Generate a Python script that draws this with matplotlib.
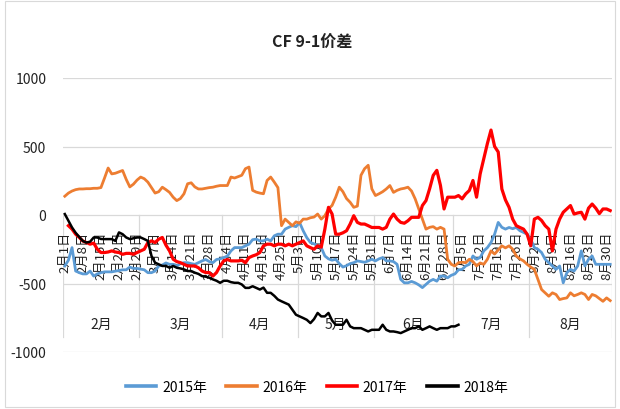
import numpy as np
import matplotlib
matplotlib.use("Agg")
import matplotlib.pyplot as plt
from matplotlib.lines import Line2D
from matplotlib.patches import Rectangle

plt.rcParams['font.family'] = ['Liberation Sans Narrow', 'Noto Sans CJK SC', 'DejaVu Sans']
plt.rcParams['axes.unicode_minus'] = False

# ----- 데이터 -----
title = "CF 9-1价差"
months = ["2月", "3月", "4月", "5月", "6月", "7月", "8月"]
month_sizes = [21, 23, 21, 21, 22, 21, 23]   # 각 월의 거래일(카테고리) 수
tick_labels = ["2月1日", "2月8日", "2月15日", "2月22日", "2月29日",
               "3月7日", "3月14日", "3月21日", "3月28日",
               "4月4日", "4月11日", "4月18日", "4月25日",
               "5月3日", "5月10日", "5月17日", "5月24日", "5月31日",
               "6月7日", "6月14日", "6月21日", "6月28日",
               "7月5日", "7月12日", "7月19日", "7月26日",
               "8月2日", "8月9日", "8月16日", "8月23日", "8月30日"]
tick_step = 5

y2015 = [-372, -330, -238, -409, -421, -430, -430, -409, -446, -430,
         -421, -415, -415, -415, -410, -405, -400, -400, -380, -390,
         -390, -395, -400, -421, -421, -409, -372, -365, -350, -360,
         -360, -372, -355, -348, -348, -355, -360, -348, -335, -325,
         -340, -348, -325, -320, -311, -300, -262, -238, -238, -238,
         -225, -213, -180, -176, -189, -189, -176, -189, -152, -140,
         -140, -103, -90, -78, -85, -55, -115, -165, -201, -210,
         -225, -238, -299, -320, -330, -323, -355, -380, -370, -355,
         -348, -335, -340, -345, -335, -323, -335, -320, -311, -335,
         -335, -340, -360, -470, -495, -495, -485, -495, -510, -530,
         -507, -483, -470, -483, -446, -446, -458, -440, -430, -400,
         -397, -372, -360, -299, -323, -310, -262, -238, -201, -140,
         -54, -90, -103, -91, -100, -91, -115, -127, -140, -176,
         -238, -250, -274, -323, -348, -372, -397, -372, -495, -421,
         -397, -409, -372, -262, -372, -323, -299, -360, -360, -360,
         -360, -360]

y2016 = [137, 160, 175, 185, 190, 190, 192, 192, 195, 195,
         200, 270, 343, 300, 305, 315, 325, 260, 205, 225,
         255, 277, 265, 240, 200, 160, 170, 203, 185, 165,
         130, 105, 120, 155, 228, 235, 205, 190, 190, 195,
         200, 203, 210, 215, 215, 215, 277, 270, 280, 290,
         338, 350, 180, 167, 160, 155, 252, 277, 240, 200,
         -78, -30, -54, -78, -50, -60, -30, -30, -20, -15,
         7, -30, -5, 44, 70, 130, 203, 170, 120, 93,
         56, 65, 290, 338, 363, 191, 142, 155, 170, 190,
         215, 165, 180, 190, 195, 203, 175, 118, 44, -30,
         -103, -90, -85, -103, -90, -103, -323, -360, -372, -348,
         -345, -348, -323, -340, -372, -350, -360, -323, -262, -285,
         -255, -225, -240, -225, -250, -299, -320, -335, -360, -380,
         -397, -470, -544, -568, -593, -568, -580, -617, -610, -605,
         -568, -590, -580, -568, -580, -617, -580, -590, -610, -630,
         -605, -625]

y2017 = [np.nan, -78, -103, -140, -164, -190, -201, -213, -205, -250,
         -274, -274, -270, -262, -270, -274, -287, -280, -280, -287,
         -274, -262, -250, -201, -189, -201, -176, -164, -220, -262,
         -323, -340, -348, -360, -372, -372, -372, -385, -409, -420,
         -420, -446, -420, -372, -335, -325, -335, -335, -335, -330,
         -348, -311, -299, -290, -274, -225, -213, -213, -225, -213,
         -213, -225, -213, -225, -213, -201, -189, -225, -238, -250,
         -225, -235, -103, 56, 7, -140, -140, -130, -115, -66,
         -5, -54, -66, -66, -78, -91, -91, -91, -103, -90,
         -30, 7, -30, -54, -60, -42, -17, -17, -17, 69,
         105, 191, 289, 326, 216, 44, 130, 130, 130, 142,
         118, 154, 179, 252, 130, 300, 411, 522, 620, 500,
         460, 190, 110, 56, -30, -78, -91, -103, -140, -225,
         -30, -17, -40, -78, -103, -262, -103, -30, 20, 44,
         69, 7, 15, 20, -30, 50, 80, 50, 10, 44,
         44, 32]

y2018 = [7, -42, -91, -130, -160, -190, -201, -195, -164, -164,
         -175, -176, -176, -176, -189, -127, -140, -164, -176, -170,
         -164, -164, -176, -189, -299, -348, -360, -372, -372, -385,
         -372, -385, -390, -397, -409, -409, -421, -430, -446, -450,
         -458, -470, -480, -495, -480, -480, -490, -495, -495, -507,
         -532, -532, -520, -532, -544, -530, -568, -568, -590, -617,
         -630, -642, -654, -691, -728, -740, -752, -765, -789, -760,
         -715, -740, -740, -715, -770, -801, -801, -801, -765, -813,
         -826, -826, -826, -838, -850, -838, -838, -838, -801, -838,
         -850, -850, -855, -862, -850, -838, -826, -826, -813, -838,
         -826, -813, -826, -838, -826, -826, -826, -813, -813, -801]

series = [("2015年", y2015, "#5B9BD5", 2.0),
          ("2016年", y2016, "#ED7D31", 2.0),
          ("2017年", y2017, "#FF0000", 2.3),
          ("2018年", y2018, "#000000", 1.8)]

# ----- 그리기 -----
W, H = 620, 410
fig = plt.figure(figsize=(W / 100, H / 100), dpi=100)
fig.patch.set_facecolor("white")

# 차트 영역 테두리
fig.patches.append(Rectangle((5 / W, 2 / H), 610 / W, 406 / H, transform=fig.transFigure,
                             fill=False, edgecolor="#d9d9d9", linewidth=0.8))

ax = fig.add_axes([63 / W, 1 - 353 / H, (612 - 63) / W, (353 - 79) / H])
n_cat = sum(month_sizes)
ax.set_xlim(0, n_cat)
ax.set_ylim(-1000, 1000)

grid_c = "#d9d9d9"
for v in [-1000, -500, 0, 500, 1000]:
    ax.axhline(v, color=grid_c, lw=0.9, zorder=1)

ax.set_yticks([-1000, -500, 0, 500, 1000])
ax.tick_params(axis="y", length=0, pad=12, labelsize=10, labelcolor="#222222")
ax.set_xticks([])
for s in ax.spines.values():
    s.set_visible(False)

# 카테고리 축 라벨 (y=0 위치에서 아래로)
for k, lab in enumerate(tick_labels):
    ax.text(k * tick_step + 0.5, -115, lab, rotation=90, ha="center", va="top",
            fontsize=9.5, color="#222222", zorder=2)

bounds = np.concatenate([[0], np.cumsum(month_sizes)])
for b in bounds:
    ax.plot([b, b], [0, -890], color=grid_c, lw=0.9, zorder=1)
for m, a, b in zip(months, bounds[:-1], bounds[1:]):
    ax.text((a + b) / 2, -796, m, ha="center", va="center", fontsize=10,
            color="#222222", zorder=2)

for name, vals, color, lw in series:
    vals = np.array(vals, dtype=float)
    x = np.arange(len(vals)) + 0.5
    ax.plot(x, vals, color=color, lw=lw, zorder=4, solid_joinstyle="round")

fig.text(312 / W, 1 - 42 / H, title, ha="center", va="center", fontsize=11.5,
         fontweight="bold", color="#222222")

handles = [Line2D([], [], color=c, lw=2.6) for _, _, c, _ in series]
fig.legend(handles, [s[0] for s in series], loc="center", bbox_to_anchor=(317 / W, 1 - 388 / H),
           ncol=4, frameon=False, fontsize=10, handlelength=2.2, handletextpad=0.4,
           columnspacing=1.4)

fig.savefig("out.png", dpi=100)
